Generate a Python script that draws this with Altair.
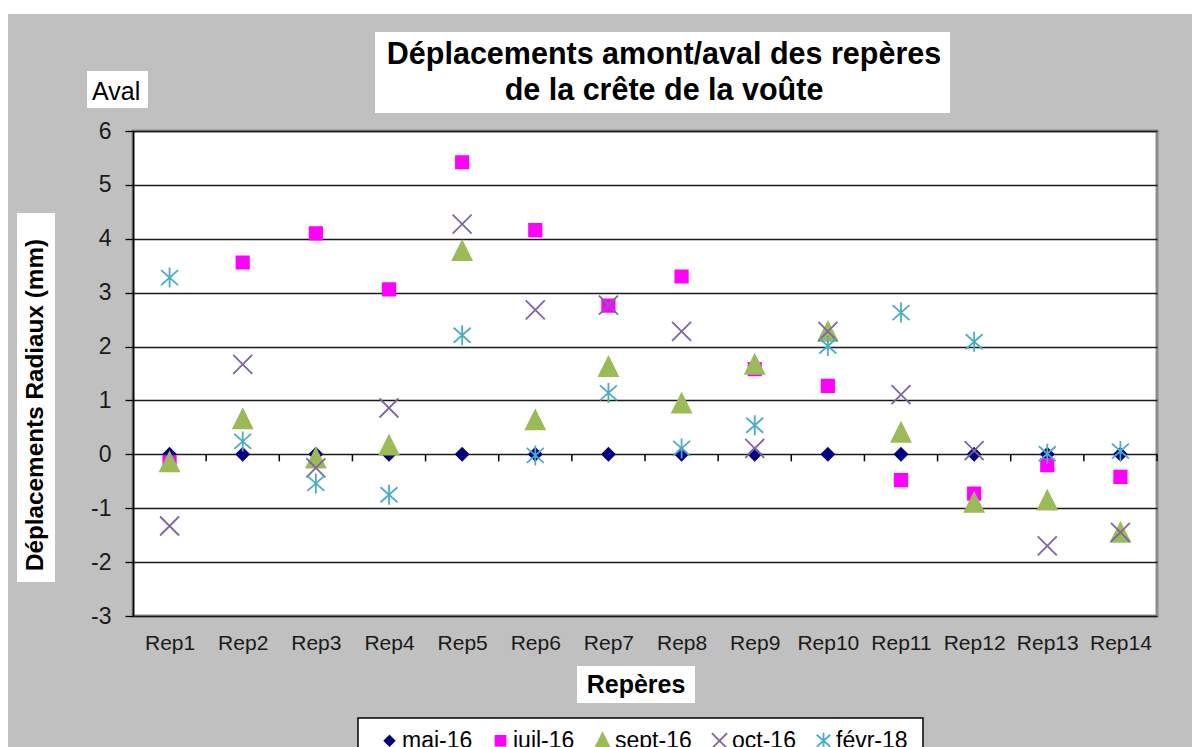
import altair as alt
import pandas as pd

# ---- data ----
reperes = ["Rep1", "Rep2", "Rep3", "Rep4", "Rep5", "Rep6", "Rep7",
           "Rep8", "Rep9", "Rep10", "Rep11", "Rep12", "Rep13", "Rep14"]
series = ["mai-16", "juil-16", "sept-16", "oct-16", "févr-18"]

mai_16 = [0, 0, 0, 0, 0, 0, 0, 0, 0, 0, 0, 0, 0, 0]
juil_16 = [-0.15, 3.56, 4.10, 3.06, 5.42, 4.16, 2.76, 3.30, 1.58, 1.27, -0.48, -0.73, -0.20, -0.42]
sept_16 = [-0.14, 0.66, -0.07, 0.17, 3.78, 0.64, 1.63, 0.95, 1.67, 2.28, 0.41, -0.89, -0.85, -1.45]
oct_16 = [-1.33, 1.67, -0.25, 0.86, 4.27, 2.68, 2.77, 2.28, 0.11, 2.28, 1.11, 0.07, -1.70, -1.45]
fevr_18 = [3.28, 0.24, -0.54, -0.75, 2.21, -0.02, 1.14, 0.11, 0.54, 2.01, 2.63, 2.09, 0.01, 0.06]

y_ticks = [-3, -2, -1, 0, 1, 2, 3, 4, 5, 6]

title_lines = ["Déplacements amont/aval des repères", "de la crête de la voûte"]
y_title = "Déplacements Radiaux (mm)"
x_title = "Repères"
side_label = "Aval"

# ---- styles ----
fills = ["#000080", "#FF00FF", "#9BBB59", "transparent", "transparent"]
strokes = ["#000080", "#FF00FF", "#9BBB59", "#8064A2", "#4BACC6"]
shapes = [
    "M0,-0.62L0.62,0L0,0.62L-0.62,0Z",
    "M-0.62,-0.62L0.62,-0.62L0.62,0.62L-0.62,0.62Z",
    "M0,-0.95L0.95,0.95L-0.95,0.95Z",
    "M-0.95,-0.95L0.95,0.95M-0.95,0.95L0.95,-0.95",
    "M-0.85,-0.75L0.85,0.75M-0.85,0.75L0.85,-0.75M0,-1L0,1",
]
FONT = "Liberation Sans"

rows = []
for s, vals in zip(series, [mai_16, juil_16, sept_16, oct_16, fevr_18]):
    for r, v in zip(reperes, vals):
        rows.append({"rep": r, "serie": s, "val": v})
df = pd.DataFrame(rows)
cats = pd.DataFrame({"rep": reperes, "zero": [0] * len(reperes)})
one = pd.DataFrame({"a": [0]})

W, H = 1024, 485
half_band = W / len(reperes) / 2

xscale = alt.Scale(domain=reperes, type="point", padding=0.5)
yscale = alt.Scale(domain=[-3, 6], nice=False)

leg = alt.Legend(
    title=None, orient="none", legendX=245, legendY=598, direction="horizontal",
    labelFontSize=23, labelFont=FONT, labelColor="black", symbolSize=256,
    symbolStrokeWidth=1.8, columnPadding=16, labelOffset=1, padding=0,
)

xaxis = alt.Axis(title=None, domain=False, ticks=False, grid=False,
                 labelAngle=0, labelAlign="center", labelBaseline="top",
                 labelFontSize=21, labelFont=FONT, labelColor="#1a1a1a",
                 labelPadding=16)
yaxis = alt.Axis(title=None, values=y_ticks, grid=True, gridColor="#1a1a1a",
                 gridWidth=1.3, domain=True, domainColor="black", domainWidth=1.6,
                 ticks=True, tickSize=8, tickColor="black", tickWidth=1.3,
                 labelFontSize=23, labelFont=FONT, labelColor="#1a1a1a",
                 labelPadding=14, labelExpr="'' + datum.value")

points = alt.Chart(df).mark_point(opacity=1, strokeWidth=1.8, size=400).encode(
    x=alt.X("rep:N", scale=xscale, sort=reperes, axis=xaxis),
    y=alt.Y("val:Q", scale=yscale, axis=yaxis),
    shape=alt.Shape("serie:N", scale=alt.Scale(domain=series, range=shapes), legend=leg),
    fill=alt.Fill("serie:N", scale=alt.Scale(domain=series, range=fills), legend=leg),
    stroke=alt.Stroke("serie:N", scale=alt.Scale(domain=series, range=strokes), legend=leg),
)

zero_ticks = alt.Chart(cats).mark_tick(
    orient="vertical", size=7, thickness=1.5, color="black",
    xOffset=half_band, yOffset=3.5, opacity=1
).encode(
    x=alt.X("rep:N", scale=xscale, sort=reperes, axis=xaxis),
    y=alt.Y("zero:Q", scale=yscale, axis=yaxis),
)

def box(x1, x2, y1, y2, stroke=None):
    kw = dict(fill="white")
    if stroke:
        kw.update(stroke=stroke, strokeWidth=1.5)
    return alt.Chart(one).mark_rect(**kw).encode(
        x=alt.value(x1), x2=alt.value(x2), y=alt.value(y1), y2=alt.value(y2))

def label(txt, x, y, size, bold=False, align="center", baseline="alphabetic", angle=0):
    kw = dict(font=FONT, fontSize=size, fontWeight="bold" if bold else "normal",
              align=align, baseline=baseline, color="black")
    if angle:
        kw["angle"] = angle
    return alt.Chart(one).mark_text(**kw).encode(
        x=alt.value(x), y=alt.value(y), text=alt.value(txt))

decor = [
    box(-125, 1060, -123, -117),           # white strip at top of page
    box(242, 817, -99, -18),               # title box
    label(title_lines[0], 531, -67, 30.5, bold=True),
    label(title_lines[1], 531, -31, 30.5, bold=True),
    box(-46, 15, -60, -23),                # "Aval" box
    label(side_label, -41, -31, 25, align="left"),
    box(-116, -78, 82, 451),               # y title box
    label(y_title, -97, 274, 24.3, bold=True, baseline="middle", angle=270),
    box(444, 562, 535, 572),               # x title box
    label(x_title, 503, 562, 25, bold=True),
    box(225, 790, 587, 640, stroke="black"),  # legend box
]

chart = alt.layer(*decor, zero_ticks, points).properties(
    width=W, height=H,
    padding={"left": 125, "top": 123, "right": 35, "bottom": 131},
    autosize=alt.AutoSizeParams(type="none"),
    background="#c0c0c0",
).configure_view(fill="white", stroke="#8c8c8c", strokeWidth=3)

chart.save("out.html", embed_options={"renderer": "svg", "actions": False})
